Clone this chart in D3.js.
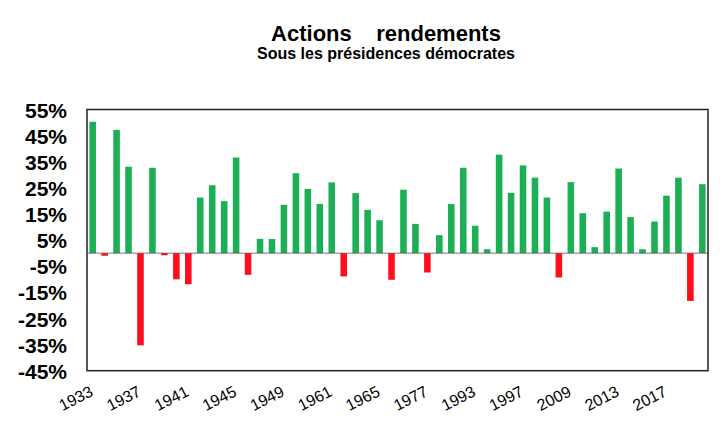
<!DOCTYPE html>
<html lang="fr">
<head>
    <meta charset="UTF-8">
    <title>Actions rendements</title>
    <script src="https://d3js.org/d3.v7.min.js"></script>
    <style>
        body { margin: 0; background: #fff; font-family: "Liberation Sans", Arial, sans-serif; }
        svg { display: block; }
    </style>
</head>
<body>
    <svg id="chart"></svg>

    <script>
        // Années sous présidence démocrate
        const years = [
            1933, 1934, 1935, 1936, 1937, 1938, 1939, 1940, 1941, 1942,
            1943, 1944, 1945, 1946, 1947, 1948, 1949, 1950, 1951, 1952,
            1961, 1962, 1963, 1964, 1965, 1966, 1967, 1968,
            1977, 1978, 1979, 1980,
            1993, 1994, 1995, 1996, 1997, 1998, 1999, 2000,
            2009, 2010, 2011, 2012, 2013, 2014, 2015, 2016, 2017,
            2021, 2022, 2023
        ];
        // Rendement annuel (%)
        const returns = [
            50.3, -1.0, 47.2, 33.1, -35.3, 32.7, -0.8, -10.0, -11.9, 21.3,
            26.0, 19.9, 36.6, -8.3, 5.5, 5.4, 18.5, 30.6, 24.6, 18.8,
            27.1, -8.9, 23.0, 16.6, 12.6, -10.2, 24.3, 11.2,
            -7.4, 6.9, 18.8, 32.7,
            10.5, 1.5, 37.7, 23.1, 33.6, 28.9, 21.3, -9.3,
            27.2, 15.3, 2.3, 15.9, 32.4, 13.8, 1.5, 12.1, 22.0,
            28.9, -18.3, 26.4
        ];
        const yTicks = [55, 45, 35, 25, 15, 5, -5, -15, -25, -35, -45];

        const data = years.map((y, i) => ({year: y, value: returns[i]}));

        const W = 725, H = 437;
        const margin = {top: 109.5, right: 17, bottom: 66.3, left: 87};
        const width = W - margin.left - margin.right;
        const height = H - margin.top - margin.bottom;

        const svg = d3.select("#chart")
            .attr("width", W)
            .attr("height", H);

        // Titres
        svg.append("text")
            .attr("x", 386).attr("y", 41)
            .attr("text-anchor", "middle")
            .attr("font-size", 22).attr("font-weight", "bold")
            .attr("xml:space", "preserve")
            .style("white-space", "pre")
            .text("Actions    rendements");
        svg.append("text")
            .attr("x", 386).attr("y", 59)
            .attr("text-anchor", "middle")
            .attr("font-size", 16).attr("font-weight", "bold")
            .text("Sous les présidences démocrates");

        const g = svg.append("g")
            .attr("transform", `translate(${margin.left},${margin.top})`);

        const x = d3.scaleBand()
            .domain(years)
            .range([0, width])
            .paddingInner(0.45)
            .paddingOuter(0.2);

        const y = d3.scaleLinear()
            .domain([-45, 55])
            .range([height, 0]);

        // Barres
        g.selectAll(".bar")
            .data(data)
            .enter()
            .append("rect")
            .attr("class", "bar")
            .attr("x", d => x(d.year))
            .attr("width", x.bandwidth())
            .attr("y", d => y(Math.max(0, d.value)))
            .attr("height", d => Math.abs(y(d.value) - y(0)))
            .attr("fill", d => d.value >= 0 ? "#1caf55" : "#ff0f1e");

        // Ligne du zéro
        g.append("line")
            .attr("x1", 0).attr("x2", width)
            .attr("y1", y(0)).attr("y2", y(0))
            .attr("stroke", "#555")
            .attr("stroke-width", 0.8);

        // Cadre
        g.append("rect")
            .attr("width", width).attr("height", height)
            .attr("fill", "none")
            .attr("stroke", "#222")
            .attr("stroke-width", 1.5);

        // Axe Y
        const yAxis = g.append("g")
            .call(d3.axisLeft(y).tickValues(yTicks).tickSize(0).tickPadding(20)
                .tickFormat(d => d + "%"));
        yAxis.select(".domain").remove();
        yAxis.selectAll("text")
            .attr("font-size", 21)
            .attr("font-weight", "bold")
            .attr("font-family", "Liberation Sans, Arial, sans-serif")
            .attr("fill", "#000")
            .attr("dy", "0.36em");

        // Axe X : une étiquette toutes les 4 barres
        const xAxis = g.append("g")
            .attr("transform", `translate(0,${height})`)
            .call(d3.axisBottom(x).tickValues(years.filter((d, i) => i % 4 === 0)).tickSize(0));
        xAxis.select(".domain").remove();
        xAxis.selectAll("text")
            .attr("font-size", 16)
            .attr("font-family", "Liberation Sans, Arial, sans-serif")
            .attr("fill", "#000")
            .attr("text-anchor", "end")
            .attr("x", 0).attr("y", 0).attr("dy", 0)
            .attr("transform", "translate(1.5,24.5) rotate(-27)");
    </script>
</body>
</html>
